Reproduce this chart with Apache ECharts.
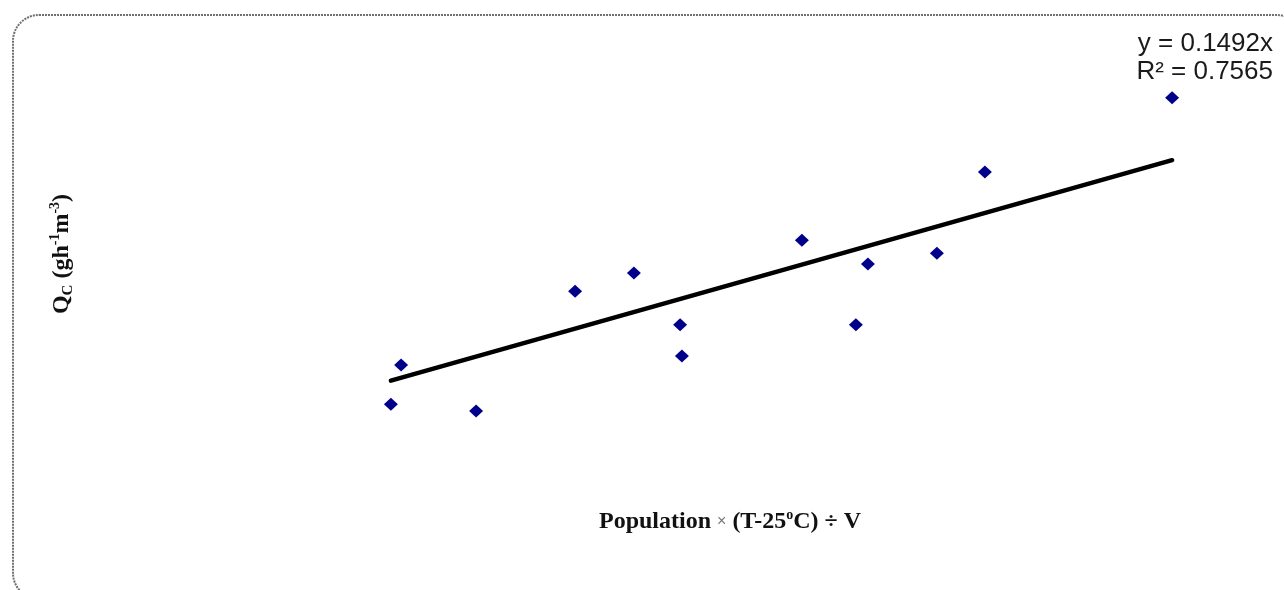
<!DOCTYPE html>
<html>
<head>
<meta charset="utf-8">
<script src="https://cdn.jsdelivr.net/npm/echarts@6/dist/echarts.min.js"></script>
<style>html,body{margin:0;padding:0;background:#fff}#c{width:1284px;height:590px}</style>
</head>
<body>
<div id="c"></div>
<script>
// Data (x: Population × (T-25ºC) ÷ V, y: Qc)
var xValues = [130.3, 133.7, 158.7, 191.7, 211.3, 226.7, 227.3, 267.3, 285.3, 289.3, 312.3, 328.3, 390.7];
var yValues = [15.3, 22.2, 14.1, 35.2, 38.4, 29.3, 23.8, 44.2, 29.3, 40.0, 41.9, 56.2, 69.3];
var trendSlope = 0.1492;
var trendR2 = 0.7565;

var points = xValues.map(function (x, i) { return [x, yValues[i]]; });
var xMin = Math.min.apply(null, xValues), xMax = Math.max.apply(null, xValues);
var trend = [[xMin, trendSlope * xMin], [xMax, trendSlope * xMax]];

var chart = echarts.init(document.getElementById('c'), null, {renderer: 'canvas'});
chart.setOption({
  animation: false,
  backgroundColor: '#fff',
  grid: {left: 0, right: 0, top: 37, bottom: 99, containLabel: false},
  xAxis: {type: 'value', min: 0, max: 428, show: false},
  yAxis: {type: 'value', min: 0, max: 80, show: false},
  series: [
    {
      type: 'line', data: trend, symbol: 'none', z: 2,
      lineStyle: {color: '#000', width: 4.5, cap: 'round'}
    },
    {
      type: 'scatter', data: points, symbol: 'diamond', symbolSize: [14, 13], z: 3,
      itemStyle: {color: '#00008B', opacity: 1}
    }
  ],
  graphic: [
    {
      type: 'rect', z: -1, silent: true,
      shape: {x: 13, y: 15, width: 1290, height: 584, r: 26},
      style: {fill: 'none', stroke: '#707070', lineWidth: 2, lineDash: [2, 1]}
    },
    {
      type: 'text', x: 1273, y: 30,
      style: {
        text: 'y = ' + trendSlope + 'x\nR² = ' + trendR2,
        fontFamily: 'Liberation Sans, Arial, sans-serif', fontSize: 26, lineHeight: 28,
        fill: '#1a1a1a', align: 'right', verticalAlign: 'top'
      }
    },
    {
      type: 'text', x: 730, y: 522,
      style: {
        text: '{b|Population }{m|×}{b| (T-25}{s|o}{b|C) ÷ V}',
        align: 'center', verticalAlign: 'middle',
        rich: {
          b: {fontFamily: 'Liberation Serif, Times New Roman, serif', fontWeight: 'bold', fontSize: 24, lineHeight: 28, fill: '#111', verticalAlign: 'middle'},
          m: {fontFamily: 'Liberation Sans, Arial, sans-serif', fontSize: 16, lineHeight: 28, fill: '#777', verticalAlign: 'middle'},
          s: {fontFamily: 'Liberation Serif, Times New Roman, serif', fontWeight: 'bold', fontSize: 14, lineHeight: 28, fill: '#111', verticalAlign: 'top'}
        }
      }
    },
    {
      type: 'text', x: 62, y: 254, rotation: Math.PI / 2,
      style: {
        text: '{b|Q}{d|C}{b| (gh}{s|-1}{b|m}{s|-3}{b|)}',
        align: 'center', verticalAlign: 'middle',
        rich: {
          b: {fontFamily: 'Liberation Serif, Times New Roman, serif', fontWeight: 'bold', fontSize: 24, lineHeight: 28, fill: '#111', verticalAlign: 'middle'},
          d: {fontFamily: 'Liberation Serif, Times New Roman, serif', fontWeight: 'bold', fontSize: 15, lineHeight: 28, fill: '#111', verticalAlign: 'bottom'},
          s: {fontFamily: 'Liberation Serif, Times New Roman, serif', fontWeight: 'bold', fontSize: 14, lineHeight: 28, fill: '#111', verticalAlign: 'top'}
        }
      }
    }
  ]
});
</script>
</body>
</html>
